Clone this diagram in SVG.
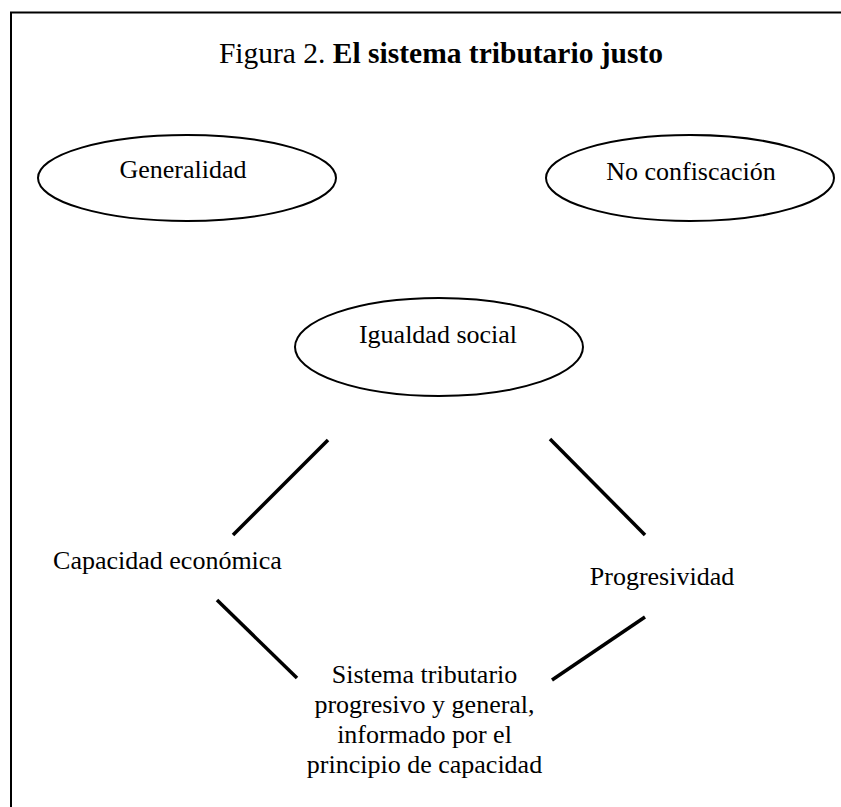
<svg xmlns="http://www.w3.org/2000/svg" width="841" height="807" viewBox="0 0 841 807">
<style>
text{font-family:"Liberation Serif","Times New Roman",serif;font-size:26px;fill:#000;text-anchor:middle}
.title{font-size:29.5px}
.node ellipse{fill:none;stroke:#000;stroke-width:2}
.conn line{stroke:#000;stroke-width:3.5;stroke-linecap:butt}
.frame{fill:none;stroke:#000;stroke-width:2}
</style>
<rect width="841" height="807" fill="#fff"/>
<polyline class="frame" points="11,807 11,12.5 841,12.5"/>
<text class="title" x="441" y="63">Figura 2. <tspan font-weight="bold">El sistema tributario justo</tspan></text>
<g id="generalidad" class="node">
<ellipse cx="187" cy="178" rx="149" ry="43"/>
<text x="183" y="178">Generalidad</text>
</g>
<g id="no-confiscacion" class="node">
<ellipse cx="690" cy="178" rx="144" ry="43"/>
<text x="691" y="180">No confiscación</text>
</g>
<g id="igualdad-social" class="node">
<ellipse cx="439" cy="347" rx="144" ry="49"/>
<text x="438" y="343">Igualdad social</text>
</g>
<g id="capacidad-economica" class="node">
<text x="167.5" y="569">Capacidad económica</text>
</g>
<g id="progresividad" class="node">
<text x="662" y="585">Progresividad</text>
</g>
<g id="sistema-tributario" class="node">
<text x="424.5" y="683">Sistema tributario</text>
<text x="424.5" y="713">progresivo y general,</text>
<text x="424.5" y="743">informado por el</text>
<text x="424.5" y="773">principio de capacidad</text>
</g>
<g id="connectors" class="conn">
<line x1="328" y1="440" x2="233" y2="535"/>
<line x1="550" y1="439" x2="645" y2="535"/>
<line x1="217" y1="600" x2="297" y2="678"/>
<line x1="645" y1="617" x2="552" y2="680"/>
</g>
</svg>
